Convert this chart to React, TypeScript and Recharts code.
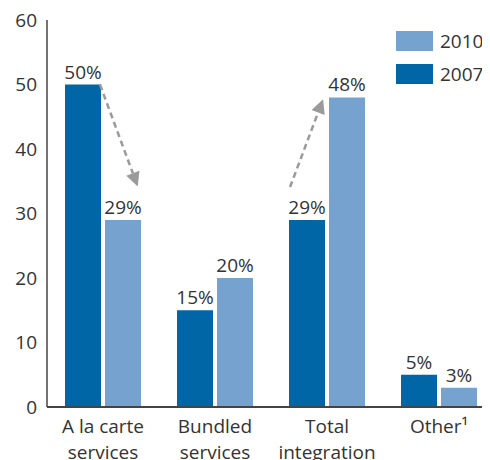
import React from 'react';
import { BarChart, Bar, XAxis, YAxis, LabelList, Legend, ReferenceLine } from 'recharts';

const categories = ['A la carte services', 'Bundled services', 'Total integration', 'Other¹'];
const categoryLines: string[][] = [['A la carte', 'services'], ['Bundled', 'services'], ['Total', 'integration'], ['Other¹']];
const values2007 = [50, 15, 29, 5];
const values2010 = [29, 20, 48, 3];
const yTicks = [0, 10, 20, 30, 40, 50, 60];
const legendItems = [
  { name: '2010', color: '#75A2CF' },
  { name: '2007', color: '#0066A6' },
];
// arrow annotations in data units: x = category index (0 = centre of first group), y = value
const arrowDown = [{ x: -0.027, y: 50 }, { x: 0.31, y: 34.2 }];
const arrowUp = [{ x: 1.67, y: 34.1 }, { x: 1.965, y: 47.7 }];

const data = categories.map((c, i) => ({ cat: c, v2007: values2007[i], v2010: values2010[i], idx: i }));

const FONT = '"Open Sans", sans-serif';
const TEXT = '#333333';

const CategoryTick = (props: any) => {
  const { x, y, index } = props;
  const lines = categoryLines[index] || [];
  return (
    <text x={x} y={y} textAnchor="middle" fontFamily={FONT} fontSize={19} fill={TEXT}>
      {lines.map((l, i) => (
        <tspan key={i} x={x} y={y + 24 + i * 26}>{l}</tspan>
      ))}
    </text>
  );
};

const Arrow = (props: any) => {
  const { x1, y1, x2, y2 } = props;
  const dx = x2 - x1;
  const dy = y2 - y1;
  const len = Math.sqrt(dx * dx + dy * dy);
  const ux = dx / len;
  const uy = dy / len;
  const headLen = 14;
  const headW = 7;
  const bx = x2 - ux * headLen;
  const by = y2 - uy * headLen;
  const px = -uy;
  const py = ux;
  return (
    <g>
      <line x1={x1} y1={y1} x2={bx} y2={by} stroke="#9A9A9A" strokeWidth={2.5} strokeDasharray="6 4" />
      <polygon
        points={`${x2},${y2} ${bx + px * headW},${by + py * headW} ${bx - px * headW},${by - py * headW}`}
        fill="#9A9A9A"
      />
    </g>
  );
};

const LegendContent = () => (
  <div style={{ fontFamily: FONT }}>
    {legendItems.map((it) => (
      <div key={it.name} style={{ display: 'flex', alignItems: 'center', height: 20, marginBottom: 13 }}>
        <div style={{ width: 37, height: 20, background: it.color }} />
        <span style={{ marginLeft: 7, fontSize: 19, color: TEXT, lineHeight: '20px' }}>{it.name}</span>
      </div>
    ))}
  </div>
);

export default function App() {
  return (
    <div style={{ width: 482, height: 452, overflow: 'hidden' }}>
      <BarChart
        width={490}
        height={452}
        data={data}
        margin={{ top: 12, right: 3, left: 0, bottom: 0 }}
        barSize={36}
        barGap={4}
      >
        <XAxis
          dataKey="cat"
          axisLine={{ stroke: '#444', strokeWidth: 2 }}
          tickLine={false}
          tickSize={0}
          height={53}
          interval={0}
          tick={<CategoryTick />}
        />
        <XAxis xAxisId="n" dataKey="idx" type="number" domain={[-0.5, 3.5]} hide allowDataOverflow />
        <YAxis
          domain={[0, 60]}
          ticks={yTicks}
          width={39}
          axisLine={{ stroke: '#444', strokeWidth: 1.5 }}
          tickLine={false}
          tickSize={0}
          tickMargin={10}
          tick={{ fontFamily: FONT, fontSize: 19, fill: TEXT }}
          interval={0}
        />
        <Legend
          layout="vertical"
          align="center"
          verticalAlign="middle"
          content={<LegendContent />}
          wrapperStyle={{ top: 23, left: 388, width: 100 }}
        />
        <Bar dataKey="v2007" fill="#0066A6" isAnimationActive={false}>
          <LabelList dataKey="v2007" position="top" offset={6} formatter={(v: any) => `${v}%`} style={{ fontFamily: FONT, fontSize: 19, fill: TEXT }} />
        </Bar>
        <Bar dataKey="v2010" fill="#75A2CF" isAnimationActive={false}>
          <LabelList dataKey="v2010" position="top" offset={6} formatter={(v: any) => `${v}%`} style={{ fontFamily: FONT, fontSize: 19, fill: TEXT }} />
        </Bar>
        <ReferenceLine xAxisId="n" segment={arrowDown} shape={<Arrow />} ifOverflow="visible" />
        <ReferenceLine xAxisId="n" segment={arrowUp} shape={<Arrow />} ifOverflow="visible" />
      </BarChart>
    </div>
  );
}
